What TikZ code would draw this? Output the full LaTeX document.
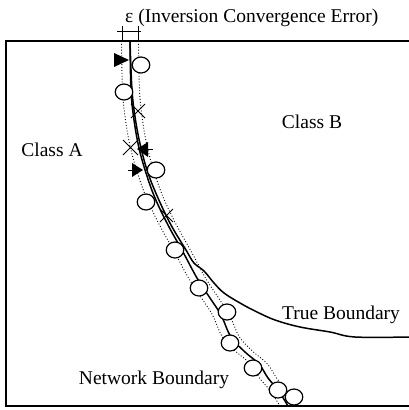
\documentclass[tikz,border=0pt]{standalone}
\usepackage{fontspec}
\setmainfont{Liberation Serif}
\usetikzlibrary{shapes.geometric}
\begin{document}
\begin{tikzpicture}[x=1pt,y=-1pt,
  lbl/.style={font=\fontsize{19.5}{22}\selectfont, inner sep=0pt},
  ring/.style={draw, line width=1.2pt, ellipse, minimum width=17.5pt, minimum height=16pt, inner sep=0pt, fill=white},
  bnd/.style={line width=1.5pt, line join=round},
  dots/.style={dotted, line width=0.9pt},
  thin/.style={line width=1pt},
  tri/.style={fill=black}]
\useasboundingbox (0,0) rectangle (409,410);
% frame
\draw[line width=1.5pt] (409,41) -- (6,41) -- (6,406) -- (409,406);
% dotted epsilon band
\draw[dots] plot[smooth, tension=0.6] coordinates {(121.5,41) (122.5,90) (125.5,120) (130.5,148) (137.5,173) (146.5,198) (159.5,225) (174.5,252) (188.5,278) (201.5,298) (212.5,315) (222.5,337) (236.5,352) (250.5,364) (259.5,378) (269.5,390) (280,406)};
\draw[dots] plot[smooth, tension=0.6] coordinates {(138.5,41) (139.5,90) (142.5,120) (147.5,148) (154.5,173) (163.5,198) (176.5,225) (191.5,252) (205.5,278) (218.5,298) (229.5,315) (239.5,337) (253.5,352) (267.5,364) (276.5,378) (286.5,390) (297,406)};
% epsilon bracket
\coordinate (e1) at (122,26);
\coordinate (e2) at (138,26);
\coordinate (e1b) at (122,41);
\coordinate (e2b) at (138,41);
\coordinate (h1) at (117,31);
\coordinate (h2) at (141,31);
\draw[thin] (e1) -- (e1b);
\draw[thin] (e2) -- (e2b);
\draw[thin] (h1) -- (h2);
\node[lbl, anchor=base west] (eps) at (125,22) {ε (Inversion Convergence Error)};
% network boundary
\draw[bnd] plot[smooth, tension=0.6] coordinates {(130,41) (131,90) (134,120) (139,148) (146,173) (155,198) (168,225) (183,252) (197,278) (210,298) (221,315) (231,337) (245,352) (259,364) (268,378) (278,390) (288,406)};
% true boundary
\draw[bnd] plot[smooth, tension=0.6] coordinates {(130,41) (132,90) (135.5,120) (141,148) (148,173) (158,198) (171,225) (186,250) (194,263) (204,271) (214,283) (224,293) (240,303) (255,311) (275,320) (300,327) (330,332) (355,337) (409,337)};
% circles
\node[ring] (c1) at (141,65) {};
\node[ring] (c2) at (124,92) {};
\node[ring] (c3) at (156,170) {};
\node[ring] (c4) at (146,202) {};
\node[ring] (c5) at (175,250) {};
\node[ring] (c6) at (199,288) {};
\node[ring] (c7) at (227,312) {};
\node[ring] (c8) at (230,343) {};
\node[ring] (c9) at (253,368) {};
\node[ring] (c10) at (278,390) {};
\node[ring] (c11) at (294,397) {};
% triangles
\fill[tri] (114,53) -- (129,60) -- (114,67) -- cycle;
\fill[tri] (137,149) -- (148,142) -- (148,157) -- cycle;
\draw[thin] (148,149) -- (153,149);
\fill[tri] (132,163) -- (143,170) -- (132,177) -- cycle;
\draw[thin] (128,170) -- (132,170);
% crosses
\draw[thin] (131,104) -- (145,118) (131,118) -- (145,104);
\draw[thin] (123,140) -- (138,155) (123,155) -- (138,140);
\draw[thin] (160,209) -- (173,222) (160,222) -- (173,209);
% labels
\node[lbl] (ca) at (52,150) {Class A};
\node[lbl] (cb) at (312,122) {Class B};
\node[lbl] (tb) at (341,315) {True Boundary};
\node[lbl] (nb) at (154,380) {Network Boundary};
\end{tikzpicture}
\end{document}
